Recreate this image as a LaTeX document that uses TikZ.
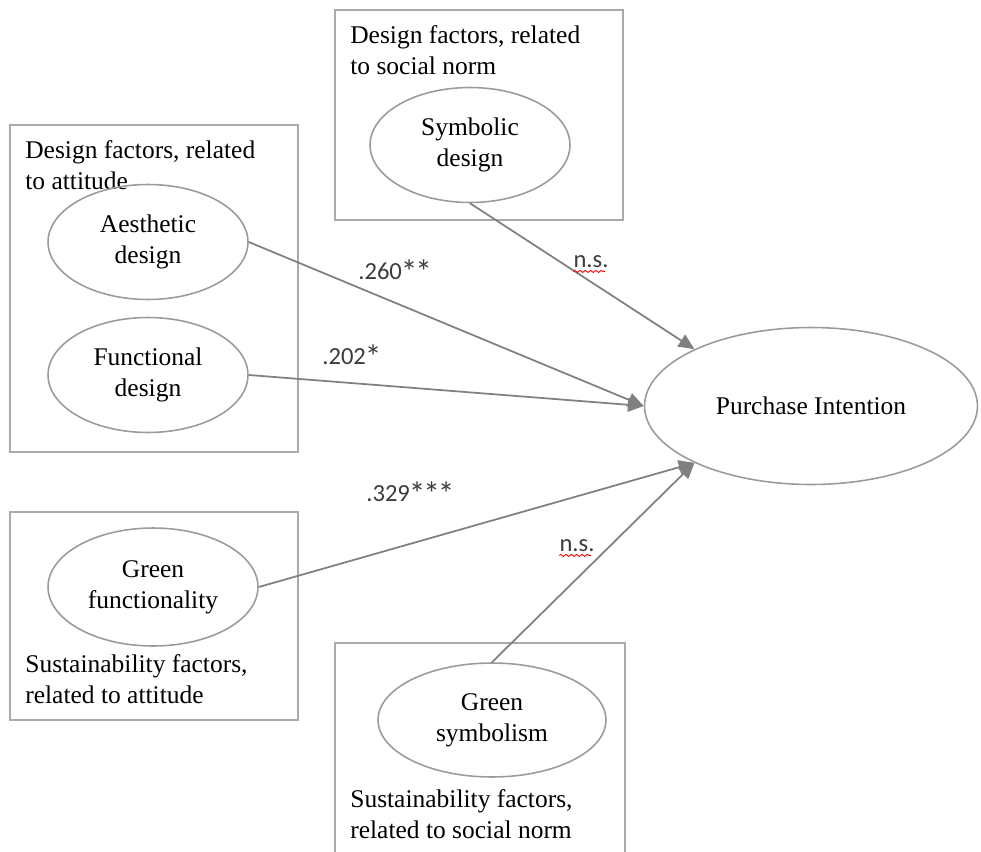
\documentclass[tikz,border=0pt]{standalone}
\usepackage{fontspec}
\setmainfont{Liberation Serif}
\newfontfamily\lblfont{Carlito}
\usetikzlibrary{arrows.meta}
\usetikzlibrary{decorations.pathmorphing}
\definecolor{framegray}{RGB}{170,170,170}
\definecolor{ovalgray}{RGB}{155,155,155}
\definecolor{arrowgray}{RGB}{128,128,128}
\definecolor{lblgray}{RGB}{60,60,60}
\newcommand{\sig}{\kern-.6pt\raisebox{-2.6pt}{\fontsize{19}{19}\selectfont *}\kern-.6pt}
\tikzstyle{oval}=[ellipse, draw=ovalgray, line width=.9pt, minimum width=4cm,
                    minimum height=2.3cm, align=center, inner sep=0pt,
                    font=\fontsize{14.5}{17.5}\selectfont]
\tikzstyle{frame}=[draw=framegray, line width=1.1pt]
\tikzstyle{boxtext}=[anchor=north west, align=left, inner sep=0pt,
                    font=\fontsize{14.5}{17.5}\selectfont]
\tikzstyle{path}=[draw=arrowgray, line width=1pt,
                    -{Triangle[length=9pt, width=8pt]}]
\tikzstyle{lbl}=[inner sep=0pt, text=lblgray, font=\lblfont\fontsize{14}{16}\selectfont]
\tikzstyle{squiggle}=[draw=red, line width=.5pt,
                    decorate, decoration={snake, amplitude=.6pt, segment length=3pt}]
\usetikzlibrary{shapes.geometric}

\begin{document}
\begin{tikzpicture}[x=0.02cm, y=-0.02cm]
      \useasboundingbox (0,0) rectangle (981,852);

      % frames
      \draw[frame] (10,125) rectangle (298,452);
      \draw[frame] (335,10) rectangle (623,220);
      \draw[frame] (10,512) rectangle (298,720);
      \draw[frame] (335,852) -- (335,643) -- (625,643) -- (625,852);

      \node[boxtext] (t1) at (25,140) {Design factors, related\\to attitude};
      \node[boxtext] (t2) at (350,25) {Design factors, related\\to social norm};
      \node[boxtext] (t3) at (25,654) {Sustainability factors,\\related to attitude};
      \node[boxtext] (t4) at (350,789) {Sustainability factors,\\related to social norm};

      \node[oval] (aes) at (148,242) {Aesthetic\\design};
      \node[oval] (fun) at (148,375) {Functional\\design};
      \node[oval] (sym) at (470,145) {Symbolic\\design};
      \node[oval, minimum width=4.2cm, minimum height=2.36cm] (gfun) at (153,587) {Green\\functionality};
      \node[oval, minimum width=4.56cm, minimum height=2.28cm] (gsym) at (492,720) {Green\\symbolism};

      \node[oval, minimum width=6.66cm, minimum height=3.14cm] (pi) at (811,406) {Purchase Intention};

      \draw[path] (aes.east) -- (pi.west);
      \draw[path] (fun.east) -- (pi.west);
      \draw[path] (sym.south) -- (pi.154);
      \draw[path] (gfun.east) -- (pi.206);
      \draw[path] (gsym.north) -- (pi.206);

      \node[lbl, anchor=west] (l1) at (358,272) {.260\sig\sig};
      \node[lbl, anchor=west] (l2) at (322,357) {.202\sig};
      \node[lbl, anchor=west] (l3) at (366,494) {.329\sig\sig\sig};
      \node[lbl] (l4) at (591,262) {n.s.};
      \node[lbl] (l5) at (577,546) {n.s.};

      \draw[squiggle] (l4.south west) ++(0,3) -- ++(32,0);
      \draw[squiggle] (l5.south west) ++(0,3) -- ++(32,0);
    \end{tikzpicture}
\end{document}
